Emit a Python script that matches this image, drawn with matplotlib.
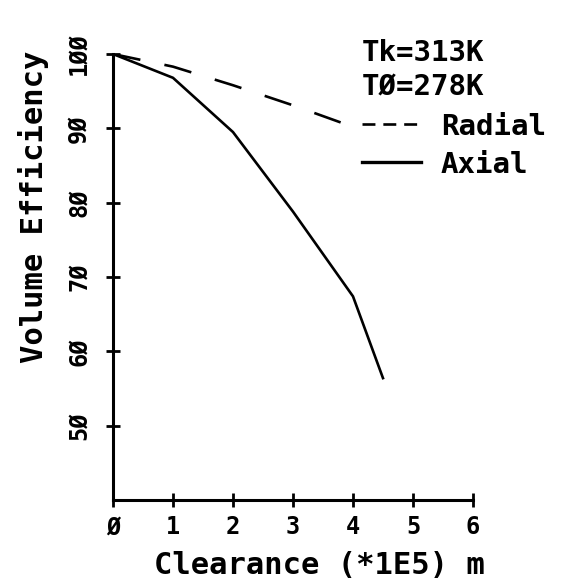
import matplotlib
matplotlib.use("Agg")
import matplotlib.pyplot as plt
from matplotlib.lines import Line2D

# ---- Data ----
clearance_radial = [0, 1, 2, 3, 4]
eff_radial = [100, 98.3, 95.8, 93.1, 90.2]
clearance_axial = [0, 1, 2, 3, 4, 4.5]
eff_axial = [100, 96.8, 89.5, 78.8, 67.4, 56.4]

x_ticks = [0, 1, 2, 3, 4, 5, 6]
x_ticklabels = ["Ø", "1", "2", "3", "4", "5", "6"]
y_ticks = [50, 60, 70, 80, 90, 100]
y_ticklabels = ["5Ø", "6Ø", "7Ø", "8Ø", "9Ø", "1ØØ"]

series_labels = ["Radial", "Axial"]
conditions = "Tk=313K\nTØ=278K"

plt.rcParams['font.family'] = ['DejaVu Sans Mono']
plt.rcParams['font.weight'] = 'bold'

fig = plt.figure(figsize=(5.63, 5.84), dpi=100)
ax = fig.add_axes([0.2007, 0.1438, 0.6394, 0.7637])

ax.plot(clearance_radial, eff_radial, color='black', lw=1.9, ls=(0, (10.6, 9.3)))
ax.plot(clearance_axial, eff_axial, color='black', lw=1.9)

ax.set_xlim(0, 6)
ax.set_ylim(40, 100)
for side in ['top', 'right']:
    ax.spines[side].set_visible(False)
for side in ['left', 'bottom']:
    ax.spines[side].set_linewidth(2.2)

ax.set_xticks(x_ticks)
ax.set_xticklabels(x_ticklabels, fontsize=17)
ax.set_yticks(y_ticks)
ax.set_yticklabels(y_ticklabels, fontsize=17, rotation=90, va='center')
ax.tick_params(direction='inout', length=10, width=2)
ax.tick_params(axis='x', pad=6)
ax.tick_params(axis='y', pad=11)

# labels sit off-centre in the original, so place them by hand
ax.set_xlabel("Clearance (*1E5) m", fontsize=22, fontweight='bold', va='center')
ax.xaxis.set_label_coords(0.572, -0.146)
ax.set_ylabel("Volume Efficiency", fontsize=22, fontweight='bold', va='center')
ax.yaxis.set_label_coords(-0.222, 0.657)

# legend keys use a shorter dash than the plotted curve, as on the plotter
handles = [Line2D([], [], color='black', lw=1.9, ls=(0, (4.9, 3.0))),
           Line2D([], [], color='black', lw=2.4)]
leg = ax.legend(handles, series_labels, title=conditions, alignment='left',
                frameon=False, fontsize=21, title_fontsize=21,
                handlelength=2.0, handletextpad=0.7, labelspacing=0.34,
                loc='upper left', bbox_to_anchor=(0.66, 1.06), borderaxespad=0)
leg.get_title().set_fontweight('bold')
leg.get_title().set_linespacing(1.3)
leg._legend_box.sep = 8

fig.savefig("out.png", dpi=100)
